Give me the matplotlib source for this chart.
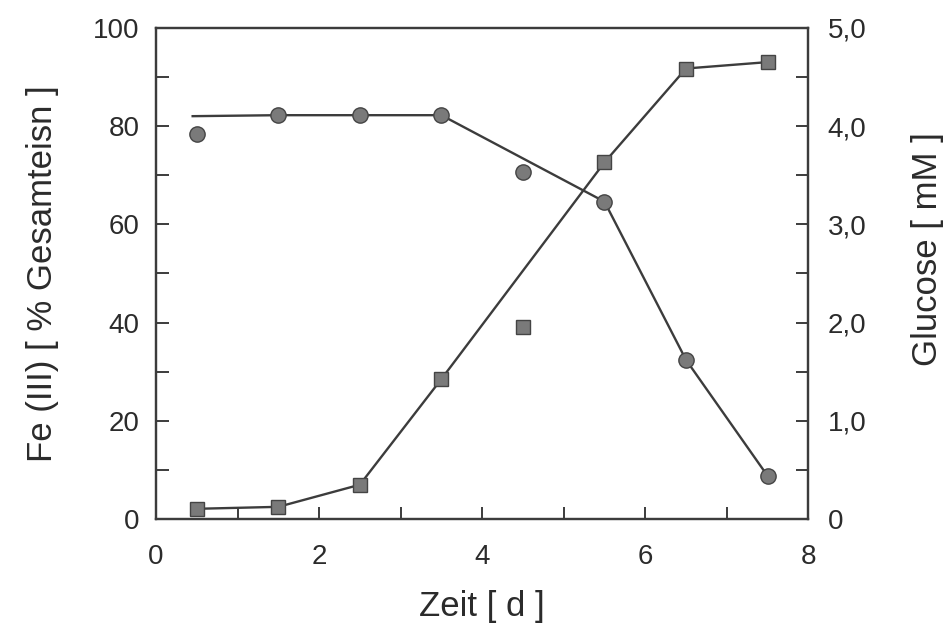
import numpy as np
import matplotlib
matplotlib.use("Agg")
import matplotlib.pyplot as plt
from matplotlib.ticker import MultipleLocator, FixedLocator

plt.rcParams['font.family'] = ['Liberation Sans', 'DejaVu Sans']

# Messwerte
zeit = [0.5, 1.5, 2.5, 3.5, 4.5, 5.5, 6.5, 7.5]
fe3 = [2.1, 2.5, 7.0, 28.5, 39.0, 72.6, 91.7, 93.0]
glucose = [3.92, 4.11, 4.11, 4.11, 3.53, 3.23, 1.62, 0.44]

# Verbindungslinien (Ausreisser bei 4,5 d nicht verbunden)
fe3_linie_x = [0.5, 1.5, 2.5, 3.5, 5.5, 6.5, 7.5]
fe3_linie_y = [2.1, 2.5, 7.0, 28.5, 72.6, 91.7, 93.0]
gluc_linie_x = [0.45, 1.5, 2.5, 3.5, 5.5, 6.5, 7.5]
gluc_linie_y = [4.1, 4.11, 4.11, 4.11, 3.23, 1.62, 0.44]

links_ticks = [0, 20, 40, 60, 80, 100]
rechts_ticks = [0, 1, 2, 3, 4, 5]
rechts_labels = ["0", "1,0", "2,0", "3,0", "4,0", "5,0"]

txt = "#2b2b2b"
linie = "#3c3c3c"
fuell = "#7a7a7a"

fig = plt.figure(figsize=(9.51, 6.30), dpi=100)
ax = fig.add_axes([0.164, 0.176, 0.686, 0.780])
ax2 = ax.twinx()

ax.plot(fe3_linie_x, fe3_linie_y, color=linie, lw=1.7, zorder=2)
ax.plot(zeit, fe3, ls="none", marker="s", ms=10.5, mfc=fuell, mec="#444444",
        mew=1.0, zorder=3)
ax2.plot(gluc_linie_x, gluc_linie_y, color=linie, lw=1.7, zorder=2)
ax2.plot(zeit, glucose, ls="none", marker="o", ms=11, mfc=fuell, mec="#444444",
         mew=1.0, zorder=3)

ax.set_xlim(0, 8)
ax.set_ylim(0, 100)
ax2.set_ylim(0, 5)

ax.xaxis.set_major_locator(MultipleLocator(2))
ax.xaxis.set_minor_locator(MultipleLocator(1))
ax.yaxis.set_major_locator(FixedLocator(links_ticks))
ax.yaxis.set_minor_locator(MultipleLocator(10))
ax2.yaxis.set_major_locator(FixedLocator(rechts_ticks))
ax2.set_yticklabels(rechts_labels)
ax2.yaxis.set_minor_locator(MultipleLocator(0.5))

ax.tick_params(axis="both", which="both", direction="in", colors=linie,
               labelcolor=txt, width=1.4, top=False, length=9)
ax.tick_params(axis="x", which="major", labelsize=20, pad=18)
ax.tick_params(axis="y", which="major", labelsize=20, pad=12)
ax.tick_params(axis="y", which="both", right=False)
ax2.tick_params(axis="y", which="both", direction="in", colors=linie,
                labelcolor=txt, width=1.4, length=9, labelsize=20, pad=14)

for a in (ax, ax2):
    for s in a.spines.values():
        s.set_color(linie)
        s.set_linewidth(1.6)

ax.set_xlabel("Zeit [ d ]", fontsize=25, color=txt, labelpad=14)
ax.set_ylabel("Fe (III) [ % Gesamteisn ]", fontsize=25, color=txt, labelpad=24)
ax2.set_ylabel("Glucose [ mM ]", fontsize=25, color=txt)
ax2.yaxis.set_label_coords(1.157, 0.55)

fig.savefig("out.png", dpi=100)
